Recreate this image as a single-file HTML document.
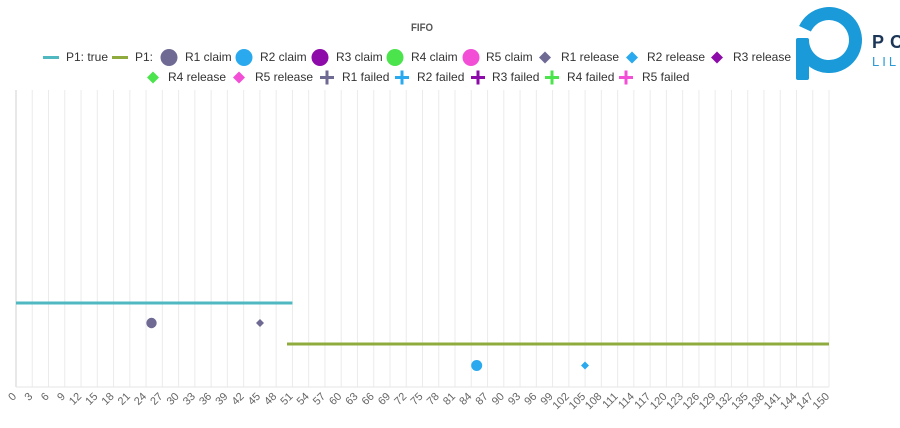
<!DOCTYPE html>
<html><head><meta charset="utf-8"><style>
html,body{margin:0;padding:0;background:#fff;}
svg{display:block;font-family:"Liberation Sans",Arial,sans-serif;}
</style></head><body>
<svg width="900" height="428" viewBox="0 0 900 428" xmlns="http://www.w3.org/2000/svg">
<rect width="900" height="428" fill="#fff"/>
<!-- gridlines -->
<path stroke="#ebebeb" stroke-width="1" fill="none" d="M32.26 90V387M48.52 90V387M64.78 90V387M81.04 90V387M97.3 90V387M113.56 90V387M129.82 90V387M146.08 90V387M162.34 90V387M178.6 90V387M194.86 90V387M211.12 90V387M227.38 90V387M243.64 90V387M259.9 90V387M276.16 90V387M292.42 90V387M308.68 90V387M324.94 90V387M341.2 90V387M357.46 90V387M373.72 90V387M389.98 90V387M406.24 90V387M422.5 90V387M438.76 90V387M455.02 90V387M471.28 90V387M487.54 90V387M503.8 90V387M520.06 90V387M536.32 90V387M552.58 90V387M568.84 90V387M585.1 90V387M601.36 90V387M617.62 90V387M633.88 90V387M650.14 90V387M666.4 90V387M682.66 90V387M698.92 90V387M715.18 90V387M731.44 90V387M747.7 90V387M763.96 90V387M780.22 90V387M796.48 90V387M812.74 90V387M829 90V387"/>
<line x1="16" y1="90" x2="16" y2="387" stroke="#d8d8d8" stroke-width="1.2"/>
<line x1="16" y1="387" x2="829" y2="387" stroke="#e6e6e6" stroke-width="1"/>

<!-- title -->
<text x="422" y="31" text-anchor="middle" font-size="11" font-weight="bold" fill="#555" textLength="22" lengthAdjust="spacingAndGlyphs">FIFO</text>

<!-- legend row 1 -->
<g font-size="12" fill="#333">
<line x1="43" y1="57.5" x2="59" y2="57.5" stroke="#4fb8c1" stroke-width="3"/>
<text x="66" y="61">P1: true</text>
<line x1="112" y1="57.5" x2="128" y2="57.5" stroke="#8fab3e" stroke-width="3"/>
<text x="135" y="61">P1:</text>
<circle cx="169" cy="57.5" r="8.5" fill="#6f6a94"/>
<text x="185" y="61">R1 claim</text>
<circle cx="244" cy="57.5" r="8.5" fill="#2aa9ee"/>
<text x="260" y="61">R2 claim</text>
<circle cx="320" cy="57.5" r="8.5" fill="#8c0ba9"/>
<text x="336" y="61">R3 claim</text>
<circle cx="395" cy="57.5" r="8.5" fill="#4ce44c"/>
<text x="411" y="61">R4 claim</text>
<circle cx="471" cy="57.5" r="8.5" fill="#f24fd6"/>
<text x="486" y="61">R5 claim</text>
<path d="M545 51.5L551 57.5L545 63.5L539 57.5Z" fill="#6f6a94"/>
<text x="561" y="61">R1 release</text>
<path d="M632 51.5L638 57.5L632 63.5L626 57.5Z" fill="#2aa9ee"/>
<text x="647" y="61">R2 release</text>
<path d="M717 51.5L723 57.5L717 63.5L711 57.5Z" fill="#8c0ba9"/>
<text x="733" y="61">R3 release</text>

<!-- legend row 2 -->
<path d="M153 71.5L159 77.5L153 83.5L147 77.5Z" fill="#4ce44c"/>
<text x="168" y="81">R4 release</text>
<path d="M239 71.5L245 77.5L239 83.5L233 77.5Z" fill="#f24fd6"/>
<text x="255" y="81">R5 release</text>
<path d="M320 77.5H334M327 70.5V84.5" stroke="#6f6a94" stroke-width="3"/>
<text x="342" y="81">R1 failed</text>
<path d="M395 77.5H409M402 70.5V84.5" stroke="#2aa9ee" stroke-width="3"/>
<text x="417" y="81">R2 failed</text>
<path d="M471 77.5H485M478 70.5V84.5" stroke="#8c0ba9" stroke-width="3"/>
<text x="492" y="81">R3 failed</text>
<path d="M545 77.5H559M552 70.5V84.5" stroke="#4ce44c" stroke-width="3"/>
<text x="567" y="81">R4 failed</text>
<path d="M619 77.5H633M626 70.5V84.5" stroke="#f24fd6" stroke-width="3"/>
<text x="642" y="81">R5 failed</text>
</g>

<!-- logo -->
<path d="M805 28.8 A26.5 26.5 0 1 1 802.5 40" fill="none" stroke="#1a9ad9" stroke-width="13"/>
<rect x="796" y="38" width="13" height="42" rx="2" fill="#1a9ad9"/>
<text x="872" y="48" font-size="18" font-weight="bold" fill="#1b3657" letter-spacing="6">PO</text>
<text x="872" y="66" font-size="13" fill="#2a9ad6" letter-spacing="3">LILLE</text>

<!-- series -->
<line x1="16" y1="303" x2="292.4" y2="303" stroke="#4fb8c1" stroke-width="3"/>
<line x1="287" y1="344" x2="829" y2="344" stroke="#8fab3e" stroke-width="3"/>
<circle cx="151.5" cy="323" r="5.2" fill="#6f6a94"/>
<path d="M260 319L264 323L260 327L256 323Z" fill="#6f6a94"/>
<circle cx="476.7" cy="365.5" r="5.5" fill="#2aa9ee"/>
<path d="M585 361.5L589 365.5L585 369.5L581 365.5Z" fill="#2aa9ee"/>

<!-- x labels -->
<g font-size="11" fill="#666" text-anchor="end">
<text transform="translate(17,397) rotate(-45)">0</text>
<text transform="translate(33.26,397) rotate(-45)">3</text>
<text transform="translate(49.52,397) rotate(-45)">6</text>
<text transform="translate(65.78,397) rotate(-45)">9</text>
<text transform="translate(82.04,397) rotate(-45)">12</text>
<text transform="translate(98.3,397) rotate(-45)">15</text>
<text transform="translate(114.56,397) rotate(-45)">18</text>
<text transform="translate(130.82,397) rotate(-45)">21</text>
<text transform="translate(147.08,397) rotate(-45)">24</text>
<text transform="translate(163.34,397) rotate(-45)">27</text>
<text transform="translate(179.6,397) rotate(-45)">30</text>
<text transform="translate(195.86,397) rotate(-45)">33</text>
<text transform="translate(212.12,397) rotate(-45)">36</text>
<text transform="translate(228.38,397) rotate(-45)">39</text>
<text transform="translate(244.64,397) rotate(-45)">42</text>
<text transform="translate(260.9,397) rotate(-45)">45</text>
<text transform="translate(277.16,397) rotate(-45)">48</text>
<text transform="translate(293.42,397) rotate(-45)">51</text>
<text transform="translate(309.68,397) rotate(-45)">54</text>
<text transform="translate(325.94,397) rotate(-45)">57</text>
<text transform="translate(342.2,397) rotate(-45)">60</text>
<text transform="translate(358.46,397) rotate(-45)">63</text>
<text transform="translate(374.72,397) rotate(-45)">66</text>
<text transform="translate(390.98,397) rotate(-45)">69</text>
<text transform="translate(407.24,397) rotate(-45)">72</text>
<text transform="translate(423.5,397) rotate(-45)">75</text>
<text transform="translate(439.76,397) rotate(-45)">78</text>
<text transform="translate(456.02,397) rotate(-45)">81</text>
<text transform="translate(472.28,397) rotate(-45)">84</text>
<text transform="translate(488.54,397) rotate(-45)">87</text>
<text transform="translate(504.8,397) rotate(-45)">90</text>
<text transform="translate(521.06,397) rotate(-45)">93</text>
<text transform="translate(537.32,397) rotate(-45)">96</text>
<text transform="translate(553.58,397) rotate(-45)">99</text>
<text transform="translate(569.84,397) rotate(-45)">102</text>
<text transform="translate(586.1,397) rotate(-45)">105</text>
<text transform="translate(602.36,397) rotate(-45)">108</text>
<text transform="translate(618.62,397) rotate(-45)">111</text>
<text transform="translate(634.88,397) rotate(-45)">114</text>
<text transform="translate(651.14,397) rotate(-45)">117</text>
<text transform="translate(667.4,397) rotate(-45)">120</text>
<text transform="translate(683.66,397) rotate(-45)">123</text>
<text transform="translate(699.92,397) rotate(-45)">126</text>
<text transform="translate(716.18,397) rotate(-45)">129</text>
<text transform="translate(732.44,397) rotate(-45)">132</text>
<text transform="translate(748.7,397) rotate(-45)">135</text>
<text transform="translate(764.96,397) rotate(-45)">138</text>
<text transform="translate(781.22,397) rotate(-45)">141</text>
<text transform="translate(797.48,397) rotate(-45)">144</text>
<text transform="translate(813.74,397) rotate(-45)">147</text>
<text transform="translate(830,397) rotate(-45)">150</text>
</g>
</svg>
</body></html>
